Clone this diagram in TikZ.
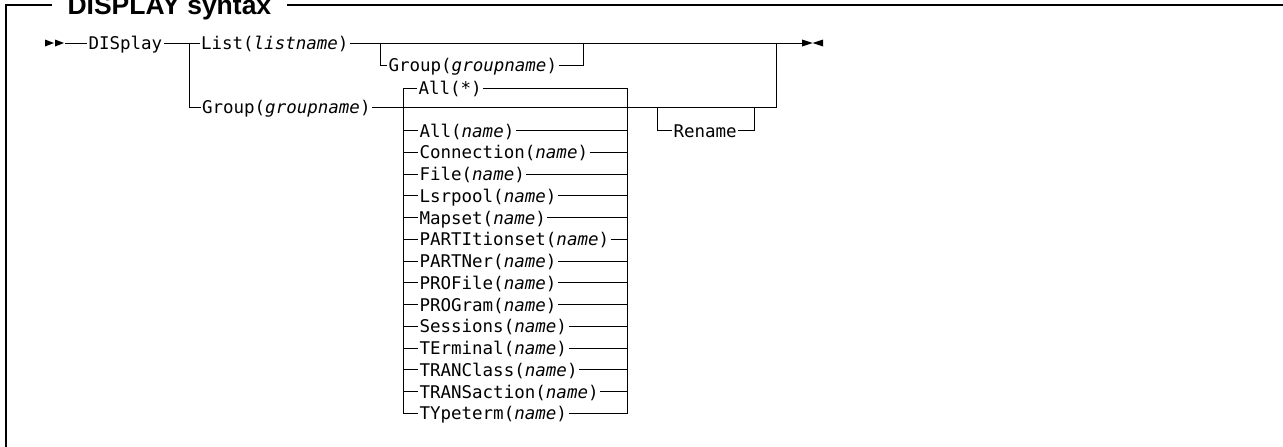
\documentclass[tikz,border=0pt]{standalone}
\usepackage{fontspec}
\setmainfont{Liberation Sans}
\newfontfamily\synfont{DejaVu Sans Mono}
\usepackage{tikz}
\usetikzlibrary{positioning}

\newcommand{\vname}[1]{\textit{#1}}

\begin{document}
\begin{tikzpicture}[x=1pt, y=-1pt, line width=1pt]

  \useasboundingbox (0,0) rectangle (1283,447);

  \tikzstyle{kw} = [
    inner xsep=1pt, inner ysep=0pt,
    text height=12.8pt, text depth=0pt,
    font=\synfont\fontsize{17.5}{20}\selectfont
  ]
  \tikzstyle{item} = [kw, anchor=west]
  \tikzstyle{frame} = [line width=1.8pt]

  % title and frame
  \node[font=\bfseries\fontsize{26.5}{30}\selectfont, inner xsep=15pt,
        inner ysep=0pt, anchor=base west] (ttl) at (52,14) {DISPLAY syntax};
  \coordinate (fr) at (6,5);
  \draw[frame] (6,447) |- (ttl.west |- fr);
  \draw[frame] (ttl.east |- fr) -- (1283,5);

  % start and end marks
  \coordinate (bgn) at (65,43);
  \coordinate (fin) at (802,43);
  \fill (45,39.5) -- (54,43) -- (45,46.5) -- cycle;
  \fill (55,39.5) -- (64,43) -- (55,46.5) -- cycle;
  \fill (802,39.5) -- (812.5,43) -- (802,46.5) -- cycle;
  \fill (823,39.5) -- (812.5,43) -- (823,46.5) -- cycle;

  % keywords
  \node[item] (dsp) at (87,43) {DISplay};
  \node[item] (lst) at (199.5,43) {List(\vname{listname})};
  \node[item] (grpA) at (387,65) {Group(\vname{groupname})};
  \node[item] (grp) at (200.5,107.5) {Group(\vname{groupname})};
  \node[item] (all) at (417,88) {All(*)};
  \node[item] (ren) at (672,130.7) {Rename};

  \node[item] (i1) at (418,130.7) {All(\vname{name})};
  \node[item, below=21.75pt of i1.west, anchor=west] (i2) {Connection(\vname{name})};
  \node[item, below=21.75pt of i2.west, anchor=west] (i3) {File(\vname{name})};
  \node[item, below=21.75pt of i3.west, anchor=west] (i4) {Lsrpool(\vname{name})};
  \node[item, below=21.75pt of i4.west, anchor=west] (i5) {Mapset(\vname{name})};
  \node[item, below=21.75pt of i5.west, anchor=west] (i6) {PARTItionset(\vname{name})};
  \node[item, below=21.75pt of i6.west, anchor=west] (i7) {PARTNer(\vname{name})};
  \node[item, below=21.75pt of i7.west, anchor=west] (i8) {PROFile(\vname{name})};
  \node[item, below=21.75pt of i8.west, anchor=west] (i9) {PROGram(\vname{name})};
  \node[item, below=21.75pt of i9.west, anchor=west] (i10) {Sessions(\vname{name})};
  \node[item, below=21.75pt of i10.west, anchor=west] (i11) {TErminal(\vname{name})};
  \node[item, below=21.75pt of i11.west, anchor=west] (i12) {TRANClass(\vname{name})};
  \node[item, below=21.75pt of i12.west, anchor=west] (i13) {TRANSaction(\vname{name})};
  \node[item, below=21.75pt of i13.west, anchor=west] (i14) {TYpeterm(\vname{name})};

  % junctions
  \coordinate (jL) at (189,43);
  \coordinate (jR) at (776,43);
  \coordinate (sL) at (380,43);
  \coordinate (sR) at (583,43);
  \coordinate (cL) at (403,88);
  \coordinate (cR) at (627,88);
  \coordinate (rL) at (657,107.5);
  \coordinate (rR) at (754,107.5);

  % main line
  \draw (bgn) -- (dsp.west);
  \draw (dsp.east) -- (lst.west);
  \draw (lst.east) -- (fin);
  \draw (sL) |- (grpA.west);
  \draw (grpA.east) -| (sR);
  \draw (jL) |- (grp.west);
  \draw (grp.east) -| (jR);

  % choice list
  \draw (i14.west) -| (cL) -- (all.west);
  \draw (all.east) -| (cR |- i14.east) -- (i14.east);
  \draw (cL |- i1.west) -- (i1.west);   \draw (i1.east) -- (cR |- i1.east);
  \draw (cL |- i2.west) -- (i2.west);   \draw (i2.east) -- (cR |- i2.east);
  \draw (cL |- i3.west) -- (i3.west);   \draw (i3.east) -- (cR |- i3.east);
  \draw (cL |- i4.west) -- (i4.west);   \draw (i4.east) -- (cR |- i4.east);
  \draw (cL |- i5.west) -- (i5.west);   \draw (i5.east) -- (cR |- i5.east);
  \draw (cL |- i6.west) -- (i6.west);   \draw (i6.east) -- (cR |- i6.east);
  \draw (cL |- i7.west) -- (i7.west);   \draw (i7.east) -- (cR |- i7.east);
  \draw (cL |- i8.west) -- (i8.west);   \draw (i8.east) -- (cR |- i8.east);
  \draw (cL |- i9.west) -- (i9.west);   \draw (i9.east) -- (cR |- i9.east);
  \draw (cL |- i10.west) -- (i10.west); \draw (i10.east) -- (cR |- i10.east);
  \draw (cL |- i11.west) -- (i11.west); \draw (i11.east) -- (cR |- i11.east);
  \draw (cL |- i12.west) -- (i12.west); \draw (i12.east) -- (cR |- i12.east);
  \draw (cL |- i13.west) -- (i13.west); \draw (i13.east) -- (cR |- i13.east);

  % Rename
  \draw (rL) |- (ren.west);
  \draw (ren.east) -| (rR);

\end{tikzpicture}
\end{document}
